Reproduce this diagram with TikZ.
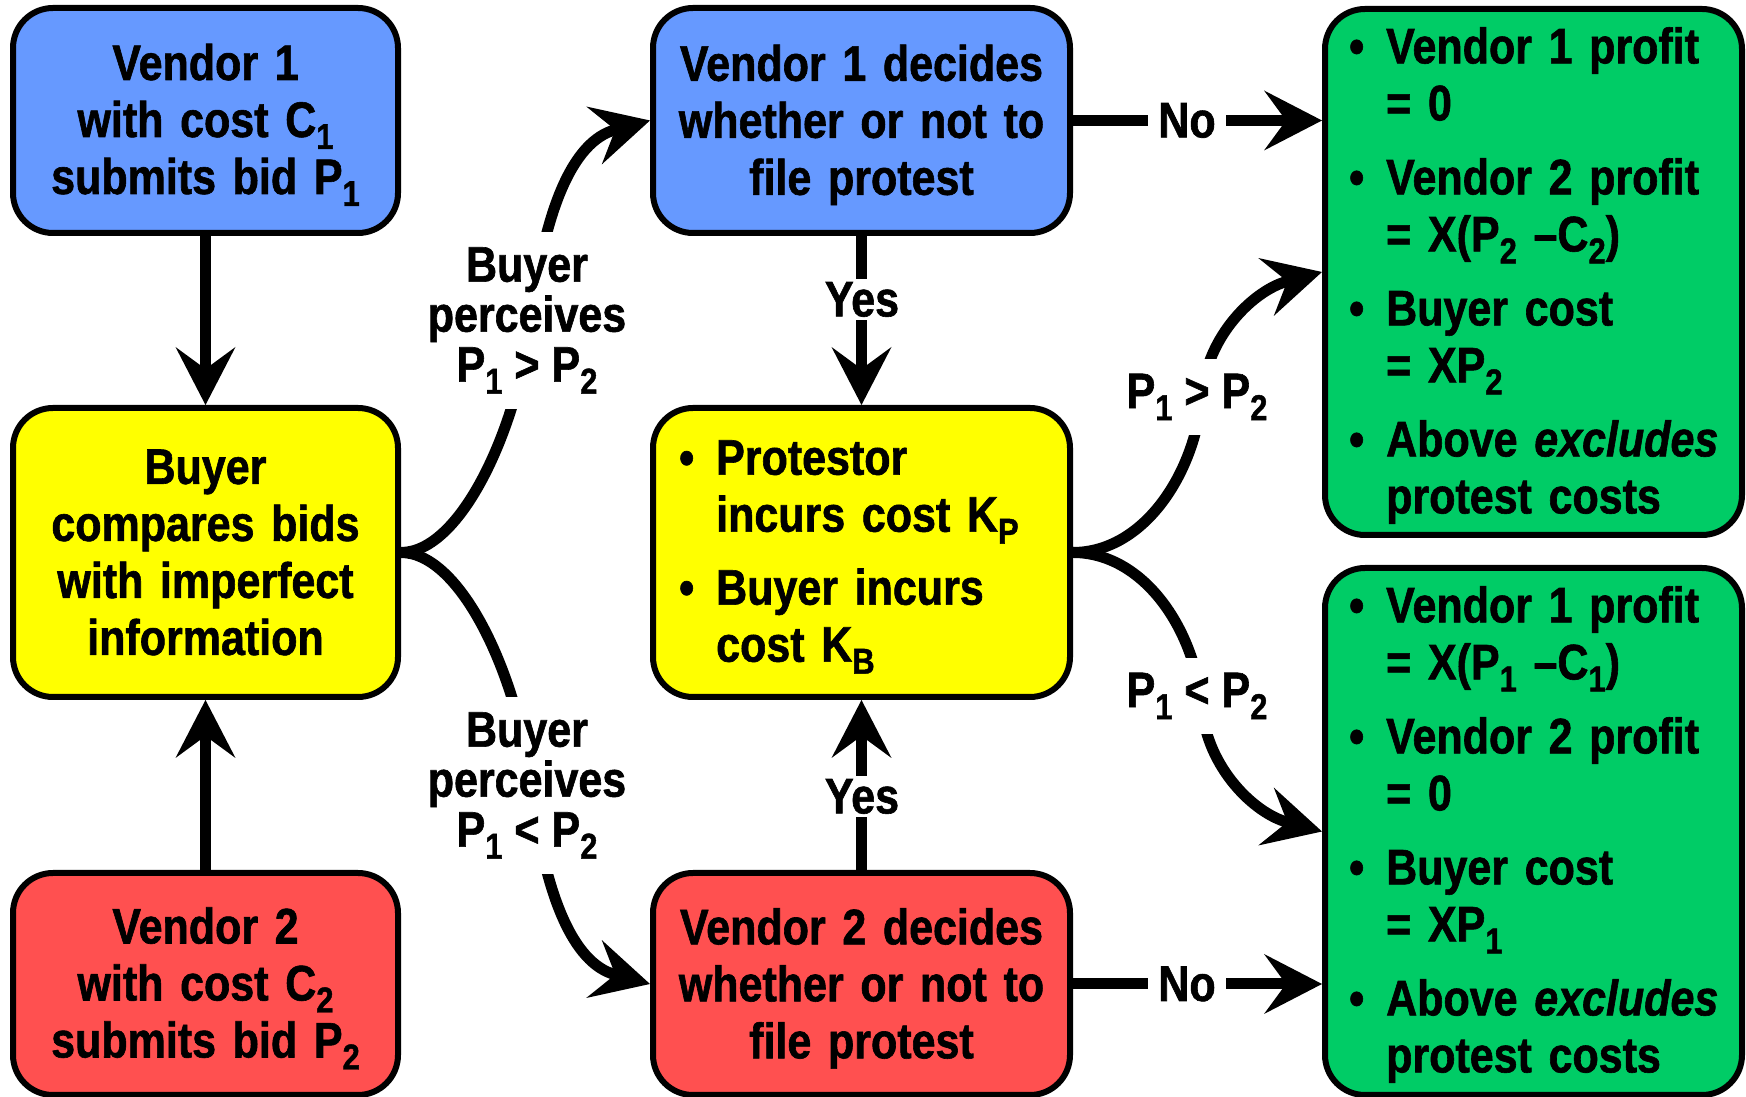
\documentclass[tikz,border=0pt]{standalone}
\usepackage{fontspec}
\setmainfont{Liberation Sans}[FakeStretch=0.86,FakeBold=1.2]
\usetikzlibrary{arrows.meta}
\definecolor{vblue}{HTML}{6699FF}
\definecolor{vyellow}{HTML}{FFFF00}
\definecolor{vred}{HTML}{FF5050}
\definecolor{vgreen}{HTML}{00CC66}
\newcommand\sbs[1]{\raisebox{-12pt}{\fontsize{36}{36}\selectfont #1}}
\newcommand\bul{\leavevmode\llap{\textbullet\hspace{22pt}}}
\newcommand\tstrut{\rule{0pt}{45pt}}
\begin{document}
\begin{tikzpicture}[x=1pt,y=1pt,
  box/.style={draw=black, line width=6pt, rounded corners=40pt, inner sep=0pt, align=center,
    font=\bfseries\fontsize{50}{57}\selectfont},
  lcol/.style={box, minimum width=385pt, text width=370pt},
  mcol/.style={box, minimum width=417pt, text width=400pt},
  rcol/.style={box, minimum width=417pt},
  conn/.style={line width=11pt, -{Stealth[length=58pt,width=60pt,inset=22pt,line width=0pt]}},
  lbl/.style={fill=white, inner xsep=6pt, inner ysep=15pt, align=center,
    font=\bfseries\fontsize{50}{50}\selectfont},
  btext/.style={align=left, inner sep=0pt, anchor=west,
    font=\bfseries\fontsize{50}{57}\selectfont}
]
\useasboundingbox (0,0) rectangle (1746,1097);

% boxes
\node[lcol, fill=vblue, minimum height=225pt] (V1) at (205.5,976.5)
  {\tstrut Vendor 1\\with cost C\sbs{1}\\submits bid P\sbs{1}};
\node[lcol, fill=vyellow, minimum height=289pt] (B) at (205.5,544.5)
  {Buyer\\compares bids\\with imperfect\\information};
\node[lcol, fill=vred, minimum height=222pt] (V2) at (205.5,113)
  {\tstrut Vendor 2\\with cost C\sbs{2}\\submits bid P\sbs{2}};
\node[mcol, fill=vblue, minimum height=225pt] (V1D) at (861.5,976.5)
  {\tstrut Vendor 1 decides\\whether or not to\\file protest};
\node[mcol, fill=vyellow, minimum height=289pt] (P) at (861.5,544.5) {};
\node[mcol, fill=vred, minimum height=222pt] (V2D) at (861.5,113)
  {\tstrut Vendor 2 decides\\whether or not to\\file protest};
\node[rcol, fill=vgreen, minimum height=526pt] (G1) at (1533.5,825) {};
\node[rcol, fill=vgreen, minimum height=527pt] (G2) at (1533.5,265.5) {};

% box texts (bulleted)
\node[btext, text width=330pt] (Ptxt) at (716,540)
  {\bul Protestor\\incurs cost K\sbs{P}\\[16pt]\bul Buyer incurs\\cost K\sbs{B}};
\node[btext, text width=352pt] (G1txt) at (1386,821.5)
  {\bul Vendor 1 profit\\= 0\\[17pt]\bul Vendor 2 profit\\= X(P\sbs{2} –C\sbs{2})\\[17pt]\bul Buyer cost\\= XP\sbs{2}\\[17pt]\bul Above \textit{excludes}\\protest costs};
\node[btext, text width=352pt] (G2txt) at (1386,262.5)
  {\bul Vendor 1 profit\\= X(P\sbs{1} –C\sbs{1})\\[17pt]\bul Vendor 2 profit\\= 0\\[17pt]\bul Buyer cost\\= XP\sbs{1}\\[17pt]\bul Above \textit{excludes}\\protest costs};

% curve waypoints
\coordinate (m1) at (531,778);
\coordinate (m2) at (531,312);
\coordinate (m3) at (1202,702);
\coordinate (m4) at (1202,389);

% straight connectors
\draw[conn] (V1.south) -- (B.north);
\draw[conn] (V2.north) -- (B.south);
\draw[conn] (V1D.south) -- (P.north);
\draw[conn] (V2D.north) -- (P.south);
\draw[conn] (V1D.east) -- (V1D.east -| G1.west);
\draw[conn] (V2D.east) -- (V2D.east -| G2.west);

% forks
\draw[conn] (B.east) .. controls +(60,0) and +(-13.4,-109.2) .. (m1)
  .. controls +(13.4,109.2) and +(-77.3,-20.7) .. (V1D.west);
\draw[conn] (B.east) .. controls +(60,0) and +(-13.4,109.2) .. (m2)
  .. controls +(13.4,-109.2) and +(-77.3,20.7) .. (V2D.west);
\draw[conn] (P.east) .. controls +(70,0) and +(-7,-79.7) .. (m3)
  .. controls +(5.2,59.8) and +(-67.6,-18.1) .. (G1.west);
\draw[conn] (P.east) .. controls +(70,0) and +(-7,79.7) .. (m4)
  .. controls +(5.2,-59.8) and +(-67.6,18.1) .. (G2.west);

% connector labels
\node[lbl] (L1) at (527,776.5) {Buyer\\perceives\\P\sbs{1} > P\sbs{2}};
\node[lbl] (L2) at (527,311.5) {Buyer\\perceives\\P\sbs{1} < P\sbs{2}};
\node[lbl] (L3) at (1197,700) {P\sbs{1} > P\sbs{2}};
\node[lbl] (L4) at (1197,401) {P\sbs{1} < P\sbs{2}};
\node[lbl, inner ysep=3pt, inner xsep=2pt] (Y1) at (862,797.5) {Yes};
\node[lbl, inner ysep=3pt, inner xsep=2pt] (Y2) at (862,300.5) {Yes};
\node[lbl, inner xsep=10pt, inner ysep=2pt] (N1) at (1187,976.5) {No};
\node[lbl, inner xsep=10pt, inner ysep=2pt] (N2) at (1187,113) {No};
\end{tikzpicture}
\end{document}
